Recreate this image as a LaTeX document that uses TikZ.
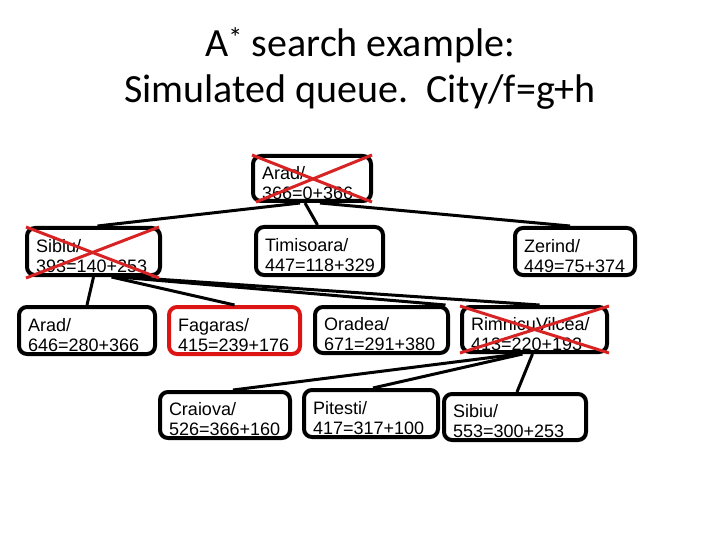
\documentclass[tikz,border=0pt]{standalone}
\usepackage{fontspec}
\setmainfont{Liberation Sans}
\newfontfamily\titlefont{Carlito}
\definecolor{boxred}{RGB}{220,20,20}
\definecolor{crossred}{RGB}{215,35,35}
\newcommand{\tl}{\rule{0pt}{22pt}}
\begin{document}
\begin{tikzpicture}[x=1pt,y=-1pt,
  box/.style={draw=black, line width=4pt, rounded corners=8pt, inner xsep=9pt, inner ysep=0pt,
    align=left, font=\fontsize{18}{20}\selectfont},
  redbox/.style={box, draw=boxred},
  edge/.style={line width=3pt, black},
  crossline/.style={line width=3pt, crossred},
  titletext/.style={font=\titlefont\fontsize{40}{46}\selectfont, anchor=base}]
\useasboundingbox (0,0) rectangle (720,540);
% title
\node[titletext] (t1) at (360,57) {A\textsuperscript{*} search example:};
\node[titletext] (t2) at (360,103) {Simulated queue.\ \ City/f=g+h};
% boxes
\node[box, minimum width=118, minimum height=45, text width=100] (root) at (312,178.5) {\tl Arad/\\366=0+366};
\node[box, minimum width=133, minimum height=47, text width=115] (sib) at (93.5,251.5) {\tl Sibiu/\\393=140+253};
\node[box, minimum width=127, minimum height=48, text width=109] (tim) at (319.5,251) {\tl Timisoara/\\447=118+329};
\node[box, minimum width=120, minimum height=47, text width=102] (zer) at (575,251.5) {\tl Zerind/\\449=75+374};
\node[box, minimum width=136, minimum height=47, text width=118] (ara) at (87,330.5) {\tl Arad/\\646=280+366};
\node[redbox, minimum width=131, minimum height=47, text width=113] (fag) at (234.5,330.5) {\tl Fagaras/\\415=239+176};
\node[box, minimum width=133, minimum height=46, text width=115] (ora) at (381.5,330) {\tl Oradea/\\671=291+380};
\node[box, minimum width=145, minimum height=45, text width=127] (rim) at (534.5,329.5) {\tl RimnicuVilcea/\\413=220+193};
\node[box, minimum width=130, minimum height=46, text width=112] (cra) at (225,415) {\tl Craiova/\\526=366+160};
\node[box, minimum width=134, minimum height=47, text width=116] (pit) at (371,413.5) {\tl Pitesti/\\417=317+100};
\node[box, minimum width=142, minimum height=46, text width=124] (sib2) at (515,417) {\tl Sibiu/\\553=300+253};
% connectors
\draw[edge] ([xshift=-12pt]root.south) -- ([xshift=4pt]sib.north);
\draw[edge] ([xshift=-7pt]root.south) -- ([xshift=-2pt]tim.north);
\draw[edge] ([xshift=8pt]root.south) -- ([xshift=-5pt]zer.north);
\draw[edge] ([xshift=0pt]sib.south) -- ([xshift=0pt]ara.north);
\draw[edge] ([xshift=18pt]sib.south) -- ([xshift=0pt]fag.north);
\draw[edge] ([xshift=25pt]sib.south) -- ([xshift=64pt]ora.north);
\draw[edge] ([xshift=32pt]sib.south) -- ([xshift=5pt]rim.north);
\draw[edge] ([xshift=-16pt]rim.south) -- ([xshift=8pt]cra.north);
\draw[edge] ([xshift=-12pt]rim.south) -- ([xshift=2pt]pit.north);
\draw[edge] ([xshift=-2pt]rim.south) -- ([xshift=2pt]sib2.north);
% crosses
\draw[crossline] ([shift={(1pt,-1pt)}]root.north west) -- ([shift={(-1pt,1pt)}]root.south east);
\draw[crossline] ([shift={(-1pt,-1pt)}]root.north east) -- ([shift={(5pt,1pt)}]root.south west);
\draw[crossline] ([shift={(1pt,-1pt)}]sib.north west) -- ([shift={(-3pt,-1pt)}]sib.south east);
\draw[crossline] ([shift={(-3pt,-1pt)}]sib.north east) -- ([shift={(1pt,-1pt)}]sib.south west);
\draw[crossline] ([shift={(0pt,-1pt)}]rim.north west) -- ([shift={(0pt,1pt)}]rim.south east);
\draw[crossline] ([shift={(0pt,-1pt)}]rim.north east) -- ([shift={(0pt,1pt)}]rim.south west);
\end{tikzpicture}
\end{document}
